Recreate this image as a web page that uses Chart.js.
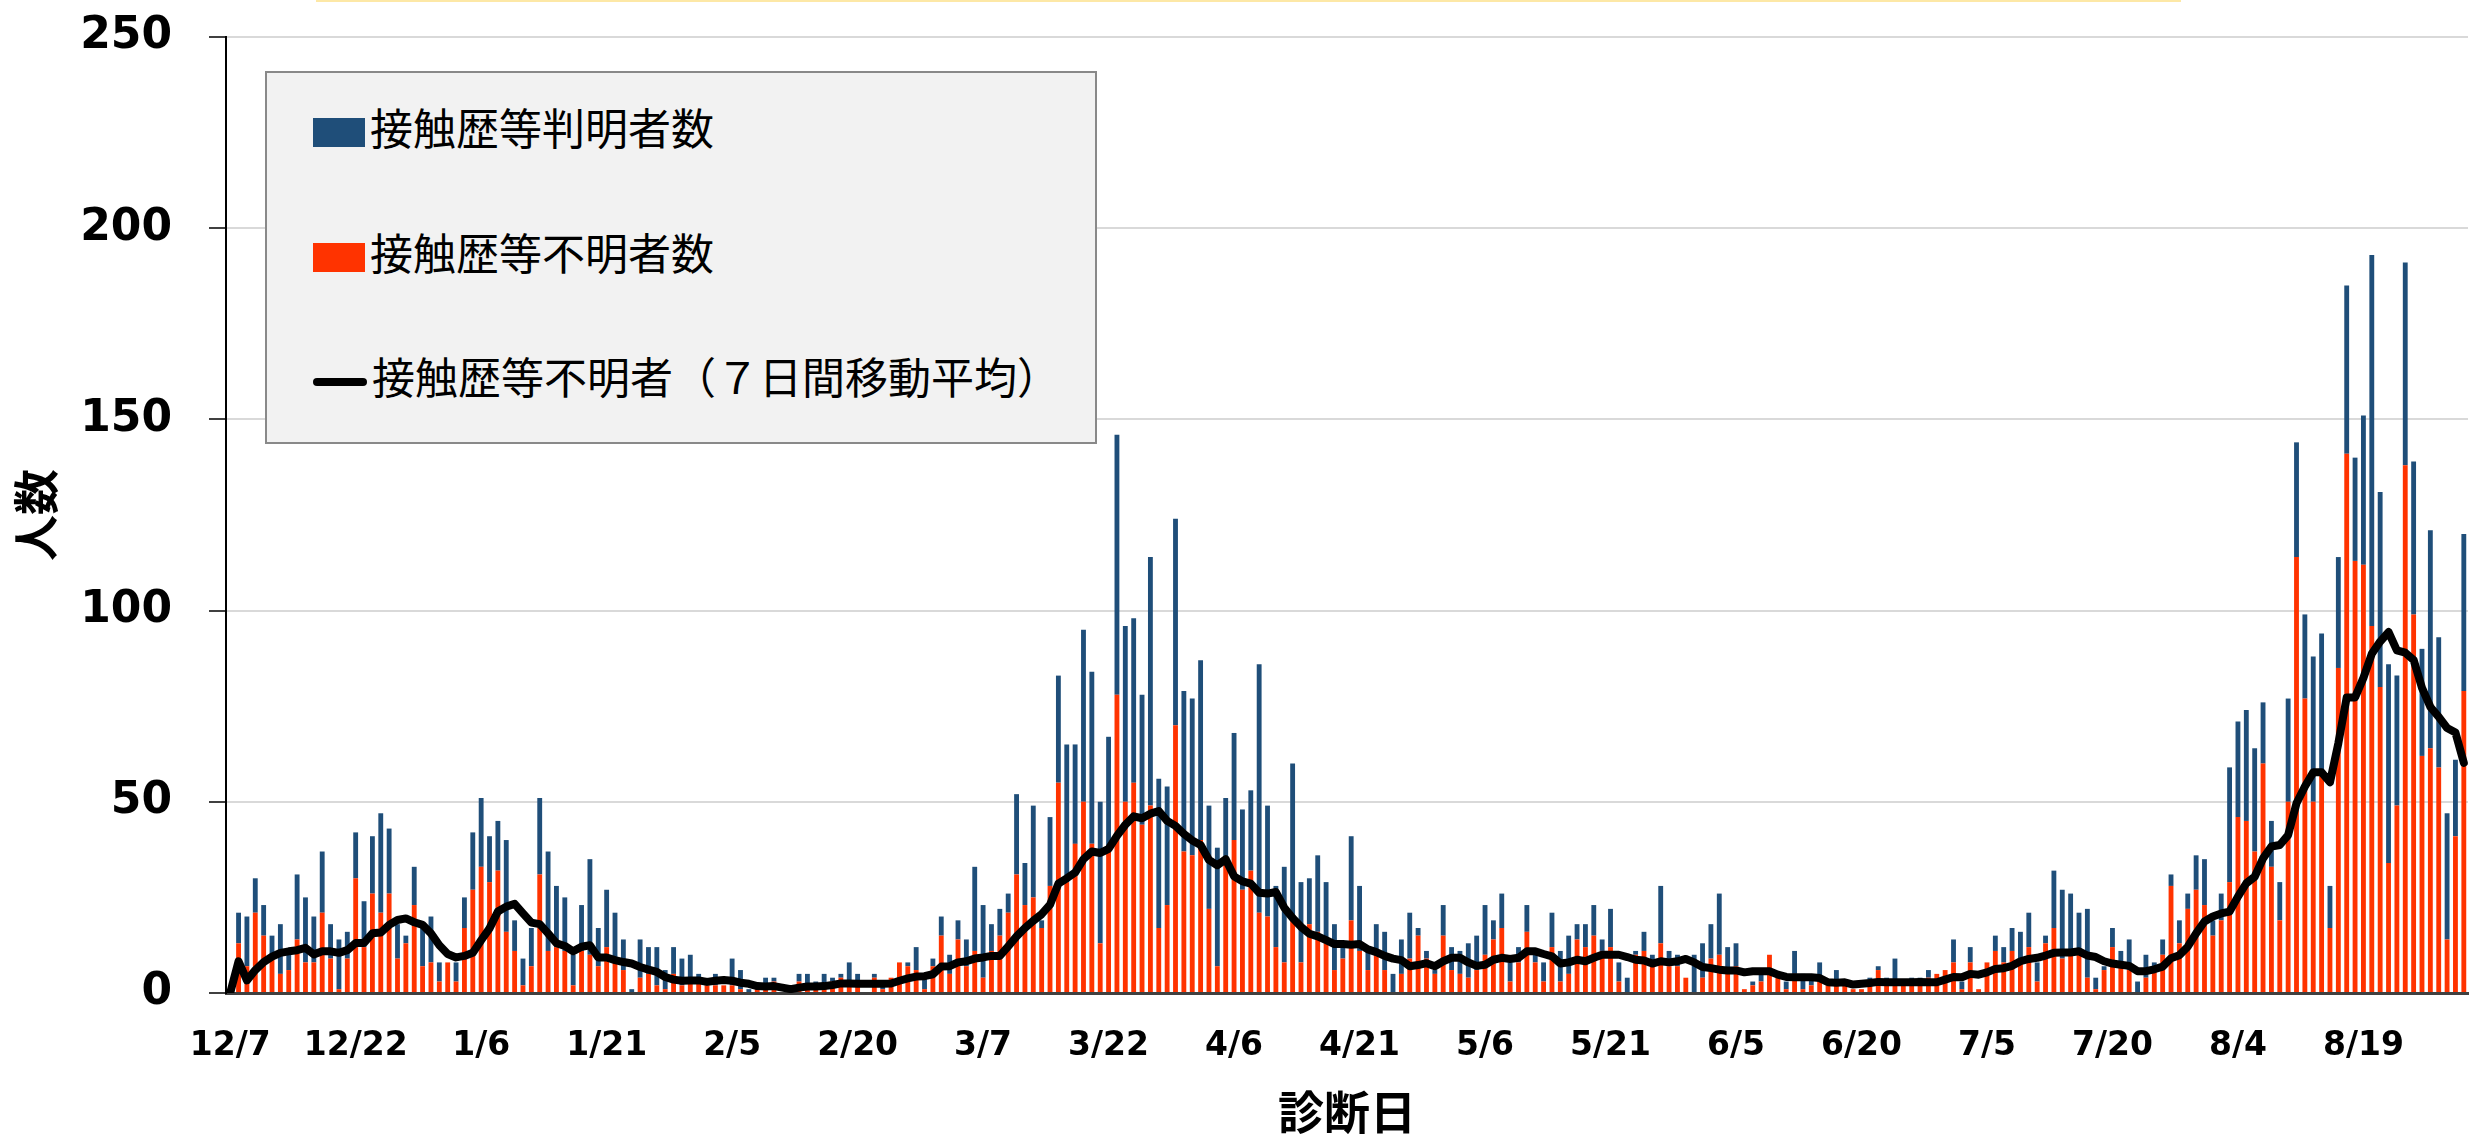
<!DOCTYPE html>
<html lang="ja">
<head>
<meta charset="utf-8">
<script src="https://cdn.jsdelivr.net/npm/chart.js@4.4.0/dist/chart.umd.min.js"></script>
<style>
  body { margin: 0; background: #fff; }
  #wrap { position: relative; width: 2478px; height: 1134px; }
  #topLine { position: absolute; left: 316px; top: 0; width: 1865px; height: 2px; background: #fde8a6; }
  #legend {
    position: absolute; left: 265px; top: 71px; width: 832px; height: 373px;
    box-sizing: border-box; background: #f2f2f2; border: 2px solid #898989;
  }
  .row { position: absolute; left: 46px; height: 60px; display: flex; align-items: center; }
  .sw { width: 52px; height: 29px; margin-top: 12px; }
  .ln { width: 54px; height: 8px; border-radius: 4px; background: #000; margin-top: 14px; }
  .txt { margin-left: 5px; font: 43px "Noto Sans CJK JP", sans-serif; line-height: 1; color: #000; white-space: nowrap; }
</style>
</head>
<body>
<div id="wrap">
  <canvas id="chart" width="2478" height="1134"></canvas>
  <div id="topLine"></div>
  <div id="legend"></div>
</div>
<script>
// 12/7 (2020) から 8/31 (2021) までの日別データ
const startDay = [2020, 11, 7];

// 接触歴等不明者数
const unknownCases = [
  0,13,7,21,15,10,5,6,14,8,8,21,9,1,9,30,12,26,21,26,9,13,23,7,8,
  3,8,3,17,27,33,29,32,16,11,2,7,31,11,12,11,2,11,10,7,12,8,6,0,4,5,2,1,5,2,4,
  4,2,2,2,2,1,0,1,2,3,0,0,3,1,2,2,3,4,3,2,0,4,1,4,8,7,6,1,
  7,15,5,14,7,11,4,11,15,21,31,23,25,17,28,55,29,39,50,39,13,37,78,50,55,44,49,17,23,70,37,
  36,40,22,7,34,40,27,32,21,20,12,8,19,8,18,16,13,6,9,19,11,6,10,6,0,5,9,15,9,5,
  15,6,5,4,6,10,14,17,3,8,16,8,3,12,3,5,14,12,15,11,12,3,0,10,11,7,13,7,7,4,0,
  4,9,10,5,7,1,2,3,10,4,1,5,1,2,3,2,2,3,1,1,3,6,3,2,3,2,2,4,5,6,
  8,1,8,1,8,11,8,11,9,12,3,13,17,9,10,10,4,1,6,12,7,6,0,4,7,10,28,13,22,27,23,
  15,19,29,46,45,37,60,33,19,50,114,77,50,58,17,85,141,113,112,96,80,34,49,138,99,62,64,59,14,41,79
];

// 接触歴等判明者数
const knownCases = [
  0,8,13,9,8,5,13,4,17,17,12,16,9,13,7,12,12,15,26,17,9,2,10,11,12,
  5,0,5,8,15,18,12,13,24,8,7,10,20,26,16,14,8,12,25,10,15,13,8,1,10,7,10,5,7,7,6,
  1,1,3,0,7,5,1,0,2,1,0,0,2,4,1,3,1,1,5,3,0,1,1,0,0,1,6,3,
  2,5,5,5,7,22,19,7,7,5,21,11,24,2,18,28,36,26,45,45,37,30,68,46,43,34,65,39,31,54,42,
  41,47,27,31,17,28,21,21,65,29,16,25,41,21,12,20,16,12,3,22,17,5,8,10,5,9,12,2,2,1,
  8,6,6,9,9,13,5,9,5,4,7,2,5,9,8,10,4,6,8,3,10,5,4,1,5,3,15,4,3,0,10,
  9,9,16,7,6,0,1,2,0,0,2,6,4,2,5,0,4,0,0,0,1,1,1,7,0,2,2,2,0,0,
  6,2,4,0,0,4,4,6,7,9,5,2,15,18,16,11,18,3,1,5,4,8,3,6,1,4,3,6,4,9,12,
  4,7,30,25,29,27,16,12,10,27,30,22,38,36,11,29,44,27,39,97,51,52,34,53,40,28,57,34,33,20,41
];

// 接触歴等不明者（７日間移動平均）
const unknownAvg7 = [
  0,8.3,3.3,6,8.1,9.5,10.5,10.9,11.2,11.8,10.1,10.9,10.9,10.5,11.2,13.1,13.1,15.6,15.8,17.8,19.1,19.5,18.5,17.8,15.6,
  12.5,10.2,9.3,9.7,10.5,13.8,16.9,21.3,22.6,23.3,20.8,18.4,18,15.6,13,12.3,10.9,12.1,12.5,9.3,9.3,8.6,8.1,7.7,6.8,6.1,5.5,4.2,3.5,3.2,3.3,
  3.3,2.9,3.2,3.4,3.2,2.7,2.4,1.8,1.7,1.8,1.4,1,1.4,1.7,1.7,1.8,2.1,2.5,2.5,2.4,2.4,2.4,2.4,2.5,3.2,3.8,4.3,4.4,
  4.9,6.9,7,8,8.3,9,9.3,9.7,9.7,12.2,14.8,17,18.9,20.6,23.1,28.6,30,31.5,35,37,36.6,37.7,41.1,44,46.2,45.7,46.9,47.6,45,43.7,41.6,
  39.9,38.7,34.8,33.4,35,30.5,29.2,28.6,26.2,26,26.4,22.3,19.6,17.3,15.5,14.8,13.8,12.8,12.8,12.6,12.8,11.4,10.7,9.7,9,8.6,7,7.3,7.8,7,
  8.3,9.2,9.2,8,7.1,7.4,8.7,9.2,8.9,9.2,10.9,10.9,10.2,9.6,7.7,8,8.7,8.3,9.2,10,10,10,9.4,8.7,8.5,7.7,8.3,8,8.3,8.9,8,
  6.8,6.5,6.1,5.9,5.9,5.4,5.7,5.7,5.7,4.8,4.2,4.1,4.1,4.1,3.9,2.8,2.7,2.8,2.2,2.4,2.6,2.9,2.8,2.8,2.8,2.8,2.9,2.8,2.8,3.5,
  4.2,4.1,5,4.8,5.4,6.3,6.5,7.1,8.3,8.9,9.2,9.8,10.5,10.6,10.6,10.9,9.8,9.4,8.3,7.7,7.4,7.1,5.7,5.7,6.2,6.9,9.1,9.9,12.1,15.6,18.7,
  20,20.8,21.3,25.2,28.7,30.4,35.2,38.3,38.7,41.3,49.6,54,57.7,57.7,55.1,65.3,77.3,77.3,82.4,88.7,91.9,94.4,89.6,89,87.1,79.8,74.8,72.2,69.3,68.1,60.2
];

const tickLabels = ["12/7","12/22","1/6","1/21","2/5","2/20","3/7","3/22","4/6","4/21","5/6","5/21","6/5","6/20","7/5","7/20","8/4","8/19"];

const days = unknownCases.map((_, i) => {
  const d = new Date(startDay[0], startDay[1], startDay[2] + i);
  return (d.getMonth() + 1) + "/" + d.getDate();
});

const BLUE = "#1f4e79";
const ORANGE = "#ff3300";

// 描画領域の目標位置 (px)
const area = { left: 226, top: 37, right: 2468, bottom: 993 };

Chart.defaults.font.family = "'DejaVu Sans', sans-serif";
Chart.defaults.color = "#000";

const ctx = document.getElementById("chart").getContext("2d");
const chart = new Chart(ctx, {
  type: "bar",
  data: {
    labels: days,
    datasets: [
      {
        type: "line",
        label: "接触歴等不明者（７日間移動平均）",
        data: unknownAvg7,
        borderColor: "#000",
        backgroundColor: "#000",
        borderWidth: 8,
        pointRadius: 0,
        borderJoinStyle: "round",
        borderCapStyle: "round",
        tension: 0,
        stack: "avg",
        order: 0
      },
      {
        label: "接触歴等不明者数",
        data: unknownCases,
        backgroundColor: ORANGE,
        stack: "cases",
        order: 1
      },
      {
        label: "接触歴等判明者数",
        data: knownCases,
        backgroundColor: BLUE,
        stack: "cases",
        order: 1
      }
    ]
  },
  options: {
    responsive: false,
    animation: false,
    devicePixelRatio: 1,
    barPercentage: 0.58,
    categoryPercentage: 1,
    layout: { padding: { left: 0, right: 2478 - area.right, top: area.top, bottom: 0 } },
    plugins: {
      legend: { display: false },
      tooltip: { enabled: false }
    },
    scales: {
      x: {
        stacked: true,
        grid: { display: false, drawTicks: false },
        border: { color: "#404040", width: 3 },
        ticks: {
          autoSkip: false,
          maxRotation: 0,
          minRotation: 0,
          padding: 34,
          font: { size: 33, weight: "bold" },
          callback: function(value) {
            const lab = this.getLabelForValue(value);
            return tickLabels.includes(lab) ? lab : "";
          }
        },
        title: {
          display: true,
          text: "診断日",
          padding: { top: 0, bottom: -5 },
          font: { family: "'Noto Sans CJK JP', sans-serif", size: 46, weight: "bold" }
        },
        afterFit: function(scale) {
          scale.height = 1134 - area.bottom;
          scale.paddingLeft = 0;
          scale.paddingRight = 0;
        }
      },
      y: {
        stacked: true,
        min: 0,
        max: 250,
        grid: { color: "#d9d9d9", lineWidth: 2, tickColor: "#000", tickLength: 17, tickWidth: 1.5 },
        border: { color: "#000", width: 2 },
        ticks: {
          stepSize: 50,
          padding: 37,
          font: { size: 44, weight: "bold" }
        },
        title: {
          display: true,
          text: "人数",
          padding: { top: 8, bottom: 0 },
          font: { family: "'Noto Sans CJK JP', sans-serif", size: 46, weight: "bold" }
        },
        afterFit: function(scale) {
          scale.width = area.left;
          scale.paddingTop = 0;
          scale.paddingBottom = 0;
        }
      }
    }
  }
});

// 凡例 (表示順: 判明者数, 不明者数, 移動平均)
function buildLegend() {
  const box = document.getElementById("legend");
  const ds = chart.data.datasets;
  const items = [
    { set: ds[2], center: 53, kind: "box" },
    { set: ds[1], center: 178, kind: "box" },
    { set: ds[0], center: 302, kind: "line" }
  ];
  items.forEach(item => {
    const row = document.createElement("div");
    row.className = "row";
    row.style.top = (item.center - 30) + "px";
    const sw = document.createElement("div");
    sw.className = item.kind === "box" ? "sw" : "ln";
    if (item.kind === "box") sw.style.background = item.set.backgroundColor;
    const txt = document.createElement("span");
    txt.className = "txt";
    txt.textContent = item.set.label;
    row.appendChild(sw);
    row.appendChild(txt);
    box.appendChild(row);
  });
}

buildLegend();
</script>
</body>
</html>
